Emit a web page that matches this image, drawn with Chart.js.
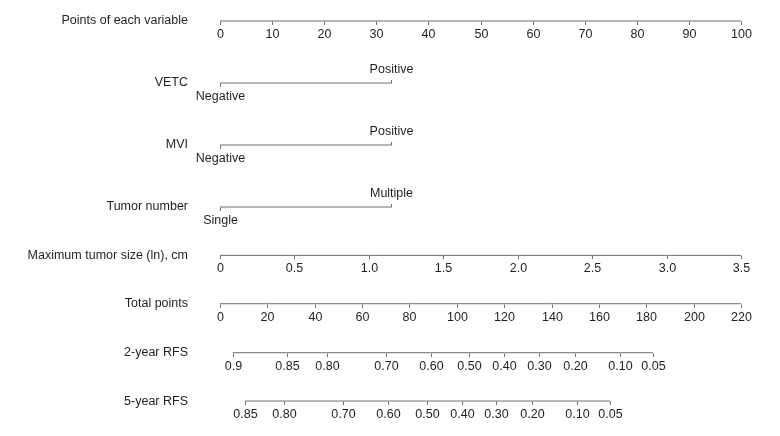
<!DOCTYPE html>
<html>
<head>
<meta charset="utf-8">
<script src="https://cdn.jsdelivr.net/npm/chart.js@4/dist/chart.umd.min.js"></script>
<style>
  html, body { margin: 0; padding: 0; background: #fff; }
  #wrap { width: 780px; height: 436px; position: relative; }
</style>
</head>
<body>
<div id="wrap"><canvas id="nomogram"></canvas></div>
<script>
// rows of the nomogram, top to bottom
var rowNames = ['Points of each variable', 'VETC', 'MVI', 'Tumor number',
                'Maximum tumor size (ln), cm', 'Total points', '2-year RFS', '5-year RFS'];
var rowPos = [0, 1, 2, 3, 3.78, 4.56, 5.35, 6.13];

// points scale 0-100
var pointTicks = [0, 10, 20, 30, 40, 50, 60, 70, 80, 90, 100];

// binary predictors: points for each level
var vetcLevels = ['Negative', 'Positive'];
var vetcPoints = [0, 32.8];
var mviLevels = ['Negative', 'Positive'];
var mviPoints = [0, 32.8];
var tumorNumberLevels = ['Single', 'Multiple'];
var tumorNumberPoints = [0, 32.8];

// continuous predictor, 3.5 = 100 points
var sizeTicks = [0, 0.5, 1.0, 1.5, 2.0, 2.5, 3.0, 3.5];
var sizeMax = 3.5;

// total points, 220 = 100 points
var totalTicks = [0, 20, 40, 60, 80, 100, 120, 140, 160, 180, 200, 220];
var totalMax = 220;

// survival probabilities at total points
var rfs2Labels = ['0.9', '0.85', '0.80', '0.70', '0.60', '0.50', '0.40', '0.30', '0.20', '0.10', '0.05'];
var rfs2Total = [5.4, 28.2, 45.0, 70.0, 89.0, 105.1, 120.1, 134.6, 149.9, 169.0, 182.8];
var rfs5Labels = ['0.85', '0.80', '0.70', '0.60', '0.50', '0.40', '0.30', '0.20', '0.10', '0.05'];
var rfs5Total = [10.4, 27.0, 51.8, 70.8, 87.3, 102.1, 116.4, 131.9, 150.9, 164.7];

var FONT = "'Liberation Sans', Arial, sans-serif";
var FONT_SIZE = 12.5;
var TEXT = '#231f20';
var LINE = '#6e6e6e';

function below(arr) { return arr.map(function () { return 1; }); }

// every row: x in points, label, which side the tick/label goes
var rows = [
  { y: rowPos[0], xs: pointTicks, labels: pointTicks.map(String), side: below(pointTicks) },
  { y: rowPos[1], xs: vetcPoints, labels: vetcLevels, side: [1, -1] },
  { y: rowPos[2], xs: mviPoints, labels: mviLevels, side: [1, -1] },
  { y: rowPos[3], xs: tumorNumberPoints, labels: tumorNumberLevels, side: [1, -1] },
  { y: rowPos[4], xs: sizeTicks.map(function (v) { return v / sizeMax * 100; }),
    labels: sizeTicks.map(function (v) { return v === 0 ? '0' : v.toFixed(1); }), side: below(sizeTicks) },
  { y: rowPos[5], xs: totalTicks.map(function (v) { return v / totalMax * 100; }),
    labels: totalTicks.map(String), side: below(totalTicks) },
  { y: rowPos[6], xs: rfs2Total.map(function (v) { return v / totalMax * 100; }),
    labels: rfs2Labels, side: below(rfs2Total) },
  { y: rowPos[7], xs: rfs5Total.map(function (v) { return v / totalMax * 100; }),
    labels: rfs5Labels, side: below(rfs5Total) }
];

var datasets = rows.map(function (r) {
  return {
    data: r.xs.map(function (x) { return { x: x, y: r.y }; }),
    showLine: true,
    borderColor: LINE,
    borderWidth: 1,
    pointRadius: 0,
    clip: false
  };
});

// tick marks and tick labels for each row
var rowTicks = {
  id: 'rowTicks',
  afterDatasetsDraw: function (chart) {
    var ctx = chart.ctx;
    var xs = chart.scales.x, ys = chart.scales.y;
    ctx.save();
    ctx.font = FONT_SIZE + 'px ' + FONT;
    ctx.textAlign = 'center';
    ctx.textBaseline = 'middle';
    rows.forEach(function (r) {
      var py = Math.round(ys.getPixelForValue(r.y)) + 0.5;
      r.xs.forEach(function (x, i) {
        var px = Math.round(xs.getPixelForValue(x)) + 0.5;
        var s = r.side[i];
        ctx.strokeStyle = LINE;
        ctx.lineWidth = 1;
        ctx.beginPath();
        ctx.moveTo(px, py);
        ctx.lineTo(px, py + s * 3.5);
        ctx.stroke();
        ctx.fillStyle = TEXT;
        ctx.fillText(r.labels[i], px, py + s * 13.5);
      });
    });
    ctx.restore();
  }
};

new Chart(document.getElementById('nomogram'), {
  type: 'scatter',
  data: { datasets: datasets },
  options: {
    responsive: true,
    maintainAspectRatio: false,
    animation: false,
    layout: { padding: { top: 10, bottom: 10, left: 0, right: 39 } },
    plugins: { legend: { display: false }, tooltip: { enabled: false } },
    scales: {
      x: { type: 'linear', min: 0, max: 100, display: false },
      y: {
        type: 'linear',
        reverse: true,
        min: -11 / 62,
        max: (426 - 21) / 62,
        afterBuildTicks: function (axis) {
          axis.ticks = rowPos.map(function (v) { return { value: v }; });
        },
        afterFit: function (axis) { axis.width = 220; },
        // invisible tick marks give the 32px gap between row names and the plot
        grid: { display: true, drawOnChartArea: false, drawTicks: true, tickLength: 32, color: 'rgba(0,0,0,0)' },
        border: { display: false },
        ticks: {
          autoSkip: false,
          padding: 0,
          color: TEXT,
          font: { family: FONT, size: FONT_SIZE },
          callback: function (v, i) { return rowNames[i]; }
        }
      }
    }
  },
  plugins: [rowTicks]
});
</script>
</body>
</html>
